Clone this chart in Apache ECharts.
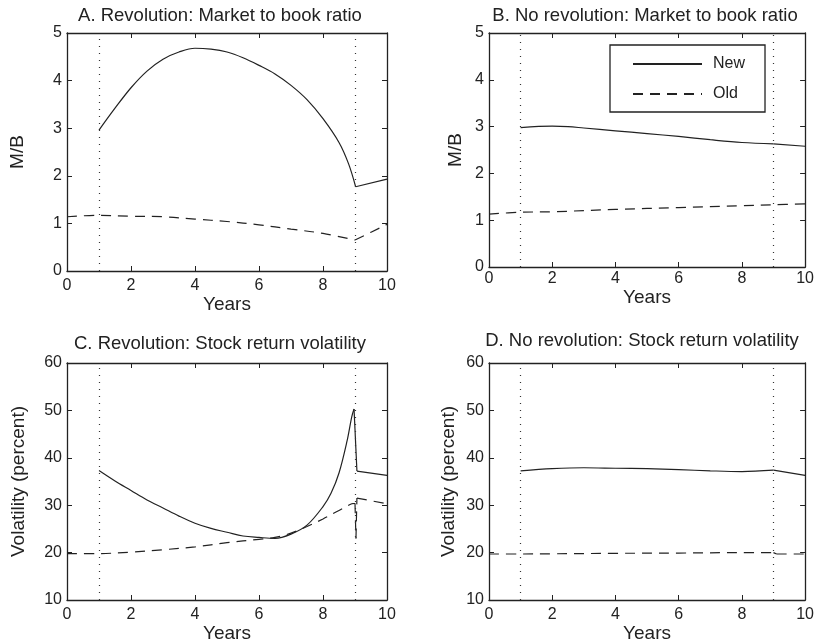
<!DOCTYPE html>
<html>
<head>
<meta charset="utf-8">
<script src="https://cdn.jsdelivr.net/npm/echarts@6/dist/echarts.min.js"></script>
<style>
html,body{margin:0;padding:0;background:#fff}
#chart{width:817px;height:644px}
</style>
</head>
<body>
<div id="chart"></div>
<script>
// DATA (x = years, y = value)
const revMbNew = [[1,2.96],[1.5,3.42],[2,3.85],[2.5,4.2],[3,4.45],[3.5,4.6],[4,4.68],[4.5,4.66],[5,4.6],[5.5,4.48],[6,4.32],[6.5,4.14],[7,3.9],[7.5,3.6],[8,3.2],[8.5,2.7],[8.8,2.25],[9.02,1.77],[10,1.93]];
const revMbOld = [[0,1.14],[1,1.17],[2,1.15],[3,1.14],[4,1.09],[5,1.04],[6,0.97],[7,0.88],[8,0.79],[9,0.65],[10,0.98]];
const noRevMbNew = [[1,2.98],[2,3.01],[2.5,3.0],[3,2.97],[4,2.91],[5,2.85],[6,2.79],[7,2.72],[8,2.66],[9,2.63],[10,2.58]];
const noRevMbOld = [[0,1.13],[1,1.17],[2,1.18],[4,1.23],[6,1.27],[8,1.31],[9,1.33],[10,1.35]];
const revVolNew = [[1,37.3],[1.5,35.1],[2,33.1],[2.5,31.1],[3,29.4],[3.5,27.7],[4,26.2],[4.5,25.1],[5,24.3],[5.5,23.5],[6,23.2],[6.5,23.0],[7,23.9],[7.5,25.8],[8,29.7],[8.25,32.5],[8.5,36.8],[8.75,43.5],[8.9,48.7],[8.97,50.3],[9.06,37.2],[10,36.3]];
const revVolOld = [[0,19.8],[1,19.8],[2,20.1],[3,20.6],[4,21.2],[5,22.1],[6,22.8],[6.5,23.2],[7,24.1],[7.5,25.5],[8,27.1],[8.5,28.9],[8.9,30.3],[9.0,30.4],[9.03,23],[9.06,31.5],[10,30.3]];
const noRevVolNew = [[1,37.25],[2,37.7],[3,37.9],[4,37.8],[5,37.7],[6,37.5],[7,37.25],[8,37.1],[9,37.4],[10,36.3]];
const noRevVolOld = [[0,19.7],[1,19.7],[2,19.75],[4,19.85],[6,19.9],[8,20.0],[9,20.0],[9.1,19.7],[10,19.7]];
const eventYears = [1, 9];

// kinks (x where the curve turns sharply, no smoothing across them)
const revMbNewKinks = [9.02];
const revMbOldKinks = [9];
const noRevMbNewKinks = [9];
const noRevMbOldKinks = [];
const revVolNewKinks = [8.97, 9.06];
const revVolOldKinks = [9.0, 9.03, 9.06];
const noRevVolNewKinks = [9];
const noRevVolOldKinks = [9, 9.1];

const titles = ['A. Revolution: Market to book ratio','B. No revolution: Market to book ratio','C. Revolution: Stock return volatility','D. No revolution: Stock return volatility'];
const yNames = ['M/B','M/B','Volatility (percent)','Volatility (percent)'];
const yRanges = [[0,5,1],[0,5,1],[10,60,10],[10,60,10]];
const xRange = [0,10,2];

// LAYOUT
const FONT = '"Liberation Sans", Arial, Helvetica, sans-serif';
const INK = '#222';
const grids = [
  {left:67, top:33, width:320, height:238},
  {left:489, top:33, width:320, height:234},
  {left:67, top:363, width:320, height:237},
  {left:489, top:363, width:320, height:237}
];
const titlePos = [[215,1],[640,1],[215,329],[637,326]];
const yNameGap = [40,24,39,31];
const xLabelMargin = [7,4,7,7];
const xNameGap = [20,19,20,20];

const axisLine = {show:true, onZero:false, lineStyle:{color:INK, width:1.3}};
const axisTick = {show:true, inside:true, length:5, lineStyle:{color:INK, width:1}};

const xAxes = [], yAxes = [];
grids.forEach((g,i)=>{
  xAxes.push({type:'value', gridIndex:i, min:xRange[0], max:xRange[1], interval:xRange[2], position:'bottom',
    axisLine, axisTick, splitLine:{show:false},
    axisLabel:{color:INK, fontSize:16, fontFamily:FONT, margin:xLabelMargin[i]},
    name:'Years', nameLocation:'middle', nameGap:xNameGap[i],
    nameTextStyle:{color:INK, fontSize:19, fontFamily:FONT, verticalAlign:'top'}});
  yAxes.push({type:'value', gridIndex:i, min:yRanges[i][0], max:yRanges[i][1], interval:yRanges[i][2], position:'left',
    axisLine, axisTick, splitLine:{show:false},
    axisLabel:{color:INK, fontSize:16, fontFamily:FONT, margin:5},
    name:yNames[i], nameLocation:'middle', nameGap:yNameGap[i],
    nameTextStyle:{color:INK, fontSize:19, fontFamily:FONT}});
});
// mirrored box axes (top / right) with inside ticks
grids.forEach((g,i)=>{
  xAxes.push({type:'value', gridIndex:i, min:xRange[0], max:xRange[1], interval:xRange[2], position:'top',
    axisLine, axisTick, axisLabel:{show:false}, splitLine:{show:false}});
  yAxes.push({type:'value', gridIndex:i, min:yRanges[i][0], max:yRanges[i][1], interval:yRanges[i][2], position:'right',
    axisLine, axisTick, axisLabel:{show:false}, splitLine:{show:false}});
});

// split a curve at its kinks, segments share the kink point
function splitAt(data, kinks){
  const segs = [[]];
  data.forEach(p=>{
    segs[segs.length-1].push(p);
    if(kinks.includes(p[0])) segs.push([p]);
  });
  return segs.filter(s=>s.length>1);
}

function mkSeries(name, data, gi, dashed, withMarks){
  const s = {
    name, type:'line', data, xAxisIndex:gi, yAxisIndex:gi,
    showSymbol:false, symbol:'none', smooth:0.35,
    lineStyle:{color:INK, width:1.2, type: dashed ? [10,7] : 'solid'},
    itemStyle:{color:INK}, animation:false, silent:true, z:3
  };
  if(withMarks){
    s.markLine = {silent:true, symbol:['none','none'], label:{show:false},
      lineStyle:{color:'#333', width:1.2, type:[1,6]},
      data: eventYears.map(v=>({xAxis:v}))};
  }
  return s;
}

const panels = [
  [revMbNew,revMbNewKinks,revMbOld,revMbOldKinks],
  [noRevMbNew,noRevMbNewKinks,noRevMbOld,noRevMbOldKinks],
  [revVolNew,revVolNewKinks,revVolOld,revVolOldKinks],
  [noRevVolNew,noRevVolNewKinks,noRevVolOld,noRevVolOldKinks]
];
const series = [];
panels.forEach((p,i)=>{
  splitAt(p[0],p[1]).forEach((seg,k)=>series.push(mkSeries('New', seg, i, false, k===0)));
  splitAt(p[2],p[3]).forEach(seg=>series.push(mkSeries('Old', seg, i, true, false)));
});

const option = {
  backgroundColor:'#fff',
  animation:false,
  title: titles.map((t,i)=>({text:t, left:titlePos[i][0], top:titlePos[i][1], textAlign:'center',
    textStyle:{color:INK, fontSize:18.5, fontWeight:'normal', fontFamily:FONT}})),
  legend:{
    data:['New','Old'], orient:'vertical', left:610, top:45,
    padding:[11,20,10,22], itemWidth:69, itemHeight:14, itemGap:14,
    borderColor:INK, borderWidth:1.3, backgroundColor:'#fff',
    itemStyle:{color:'rgba(0,0,0,0)', borderWidth:0, opacity:0},
    textStyle:{color:INK, fontSize:16, fontFamily:FONT, padding:[0,0,0,6]}
  },
  grid: grids,
  xAxis: xAxes,
  yAxis: yAxes,
  series
};

const chart = echarts.init(document.getElementById('chart'), null, {renderer:'canvas'});
chart.setOption(option);
</script>
</body>
</html>
